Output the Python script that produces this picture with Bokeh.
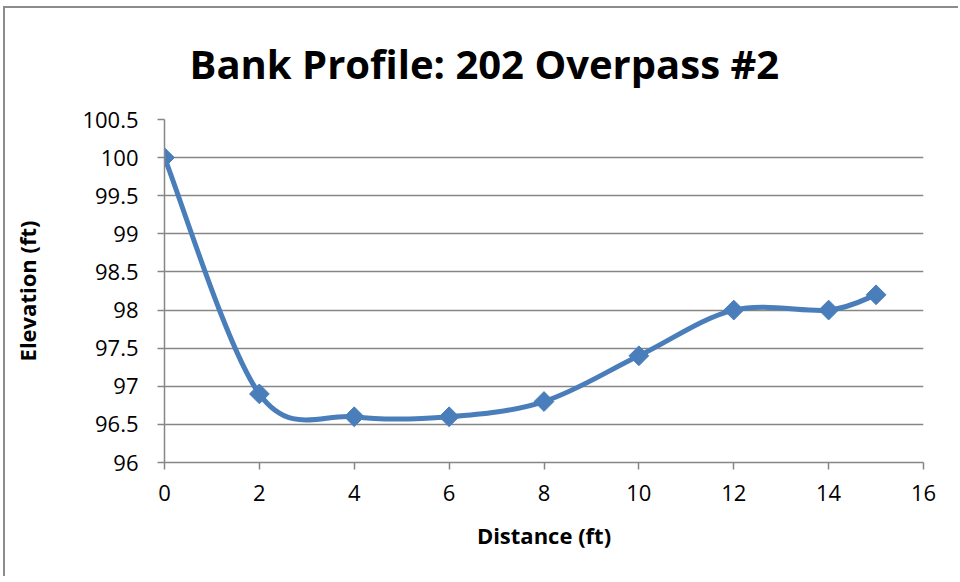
import numpy as np
from bokeh.plotting import figure
from bokeh.models import FixedTicker, Title
from bokeh.embed import file_html
from bokeh.resources import INLINE

# ---- data ----
distance = [0, 2, 4, 6, 8, 10, 12, 14, 15]
elevation = [100, 96.9, 96.6, 96.6, 96.8, 97.4, 98, 98, 98.2]

x_ticks = [0, 2, 4, 6, 8, 10, 12, 14, 16]
y_ticks = [96, 96.5, 97, 97.5, 98, 98.5, 99, 99.5, 100, 100.5]
y_tick_labels = ["96", "96.5", "97", "97.5", "98", "98.5", "99", "99.5", "100", "100.5"]

title_text = "Bank Profile: 202 Overpass #2"
x_label = "Distance (ft)"
y_label = "Elevation (ft)"

# ---- style ----
BLUE = "#4A7EBB"
GRAY = "#868686"
FONT = "Open Sans"

p = figure(
    width=955, height=570,
    x_range=(x_ticks[0], x_ticks[-1]),
    y_range=(y_ticks[0], y_ticks[-1]),
    output_backend="svg", toolbar_location=None,
    min_border_left=159, min_border_right=37,
    min_border_top=111, min_border_bottom=116,
)
p.styles = {"border-top": "2px solid #8c8c8c", "border-left": "2px solid #8c8c8c",
            "margin-left": "3px", "margin-top": "6px"}
p.outline_line_color = None
p.background_fill_color = "white"
p.border_fill_color = "white"

p.add_layout(Title(text=title_text, align="left", offset=25, standoff=54,
                   vertical_align="top",
                   text_font=FONT, text_font_size="40px", text_font_style="bold",
                   text_color="black"), "above")

# axes
p.xaxis.ticker = FixedTicker(ticks=x_ticks)
p.yaxis.ticker = FixedTicker(ticks=y_ticks)
p.yaxis.major_label_overrides = {
    (int(t) if float(t).is_integer() else t): l for t, l in zip(y_ticks, y_tick_labels)
}
for ax in (p.xaxis, p.yaxis):
    ax.axis_line_color = GRAY
    ax.axis_line_width = 1.5
    ax.major_tick_line_color = GRAY
    ax.major_tick_line_width = 1.5
    ax.major_tick_out = 7
    ax.major_tick_in = 0
    ax.minor_tick_line_color = None
    ax.major_label_text_font = FONT
    ax.major_label_text_font_size = "22px"
    ax.major_label_text_color = "black"
    ax.axis_label_text_font = FONT
    ax.axis_label_text_font_size = "22px"
    ax.axis_label_text_font_style = "bold"
    ax.axis_label_text_color = "black"
p.xaxis.axis_label = x_label
p.yaxis.axis_label = y_label
p.yaxis.major_label_standoff = 19
p.xaxis.major_label_standoff = 15
p.yaxis.axis_label_standoff = 37
p.xaxis.axis_label_standoff = 16

p.xgrid.grid_line_color = None
p.ygrid.grid_line_color = GRAY
p.ygrid.grid_line_width = 1.5

# ---- smoothed line (Catmull-Rom -> cubic Bezier, like Excel's smoothing) ----
xs = np.array(distance, dtype=float)
ys = np.array(elevation, dtype=float)
ex = np.concatenate([[xs[0]], xs, [xs[-1]]])
ey = np.concatenate([[ys[0]], ys, [ys[-1]]])
x0 = ex[1:-2]; y0 = ey[1:-2]
x1 = ex[2:-1]; y1 = ey[2:-1]
cx0 = x0 + (ex[2:-1] - ex[:-3]) / 6.0
cy0 = y0 + (ey[2:-1] - ey[:-3]) / 6.0
cx1 = x1 - (ex[3:] - ex[1:-2]) / 6.0
cy1 = y1 - (ey[3:] - ey[1:-2]) / 6.0

p.bezier(x0=x0, y0=y0, x1=x1, y1=y1, cx0=cx0, cy0=cy0, cx1=cx1, cy1=cy1,
         line_color=BLUE, line_width=5, line_cap="round")

p.scatter(distance, elevation, marker="square", size=14, angle=np.pi / 4,
          fill_color=BLUE, line_color=BLUE)

open("out.html", "w").write(file_html(p, INLINE))
